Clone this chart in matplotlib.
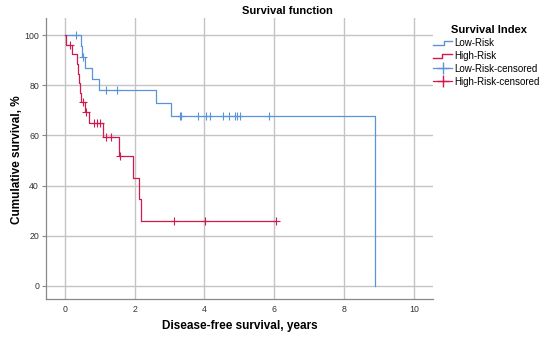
import numpy as np
import matplotlib
matplotlib.use('Agg')
import matplotlib.pyplot as plt
from matplotlib.lines import Line2D
from matplotlib.legend_handler import HandlerBase

plt.rcParams['font.family'] = ['Liberation Sans', 'DejaVu Sans']

# Low-Risk group: event times (years) and survival (%) after each step
low_t = [0, 0.45, 0.49, 0.57, 0.79, 0.98, 2.60, 3.04, 8.88]
low_s = [100, 95.7, 91.3, 87.0, 82.6, 78.3, 73.1, 67.9, 0]
low_cens = [0.33, 0.52, 1.17, 1.48, 3.30, 3.34, 3.82, 4.04, 4.17,
            4.52, 4.71, 4.87, 4.94, 5.01, 5.86]

# High-Risk group
high_t = [0, 0.02, 0.21, 0.34, 0.37, 0.40, 0.43, 0.46, 0.57, 0.70,
          1.08, 1.55, 1.96, 2.12, 2.17, 6.05]
high_s = [100, 96.2, 92.3, 88.5, 84.6, 80.8, 76.9, 73.5, 69.5, 64.8,
          59.2, 51.8, 43.2, 34.5, 25.9, 25.9]
high_cens = [0.16, 0.52, 0.62, 0.83, 0.93, 1.02, 1.17, 1.32, 1.59,
             3.12, 4.01, 6.05]

blue = '#5a94d8'
red = '#d2194f'
grid_c = '#c4c4c4'
txt_c = '#333333'


def surv_at(times, surv, c):
    idx = np.searchsorted(times, c, side='right') - 1
    return np.array(surv)[idx]


class HandlerStep(HandlerBase):
    def create_artists(self, legend, orig_handle, xd, yd, width, height,
                       fontsize, trans):
        if orig_handle.get_label() == 'High-Risk':
            x = [0, width * 0.45, width * 0.45, width]
        else:
            x = [0, width * 0.55, width * 0.55, width]
        y = [height * 0.15, height * 0.15, height * 0.75, height * 0.75]
        ln = Line2D(np.array(x) - xd, np.array(y) - yd,
                    color=orig_handle.get_color(), lw=1)
        ln.set_transform(trans)
        return [ln]


fig = plt.figure(figsize=(5.5, 3.4), dpi=100)
ax = fig.add_axes([0.0836, 0.1206, 0.7034, 0.8264])

ax.step(low_t, low_s, where='post', color=blue, lw=0.9)
ax.step(high_t, high_s, where='post', color=red, lw=0.9)
ax.plot(low_cens, surv_at(low_t, low_s, low_cens), ls='none', marker='+',
        ms=6, mew=0.8, color=blue)
ax.plot(high_cens, surv_at(high_t, high_s, high_cens), ls='none', marker='+',
        ms=6, mew=0.8, color=red)

ax.set_xlim(-0.54, 10.54)
ax.set_ylim(-5.2, 106.8)
ax.set_xticks(np.arange(0, 11, 2))
ax.set_yticks(np.arange(0, 101, 20))
ax.grid(True, color=grid_c, lw=1)
ax.set_axisbelow(True)
for s in ['top', 'right']:
    ax.spines[s].set_visible(False)
for s in ['left', 'bottom']:
    ax.spines[s].set_color('#888888')
    ax.spines[s].set_linewidth(0.9)
ax.tick_params(axis='y', length=3, color='#888888', labelsize=6.3,
               labelcolor=txt_c, pad=2)
ax.tick_params(axis='x', length=0, labelsize=6.3, labelcolor=txt_c, pad=4)

fig.text(240 / 550, 1 - 326 / 340, 'Disease-free survival, years',
         fontsize=8.5, fontweight='bold', ha='center', va='center')
fig.text(17 / 550, 1 - 160 / 340, 'Cumulative survival, %', fontsize=8.5,
         fontweight='bold', ha='center', va='center', rotation=90)
fig.text(287 / 550, 1 - 11 / 340, 'Survival function', fontsize=8,
         fontweight='bold', ha='center', va='center')

# legend
fig.text(451 / 550, 1 - 30 / 340, 'Survival Index', fontsize=8,
         fontweight='bold', ha='left', va='center')
h_low = Line2D([], [], color=blue, label='Low-Risk')
h_high = Line2D([], [], color=red, label='High-Risk')
h_lc = Line2D([], [], color=blue, marker='+', ms=9, lw=0.9,
              label='Low-Risk-censored')
h_hc = Line2D([], [], color=red, marker='+', ms=9, lw=0.9,
              label='High-Risk-censored')
leg = fig.legend(handles=[h_low, h_high, h_lc, h_hc], loc='upper left',
                 bbox_to_anchor=(433 / 550, 1 - 38 / 340),
                 frameon=False, fontsize=7, handlelength=2.0,
                 handletextpad=0.15, labelspacing=0.3,
                 borderaxespad=0, borderpad=0,
                 handler_map={h_low: HandlerStep(), h_high: HandlerStep()})

fig.savefig('out.png', dpi=100)
